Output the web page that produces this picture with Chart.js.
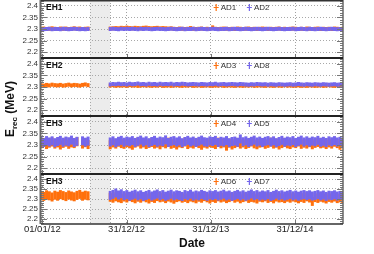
<!DOCTYPE html>
<html>
<head>
<meta charset="utf-8">
<script src="https://cdn.jsdelivr.net/npm/chart.js@4.4.1/dist/chart.umd.min.js"></script>
<style>
  html, body { margin: 0; padding: 0; background: #fff; }
  canvas { display: block; }
</style>
</head>
<body>
<canvas id="energyChart" width="374" height="254"></canvas>
<script>
// sampling grid: days since 01/01/12, one point every 12 days
const firstDay = -6, lastDay = 1302, stepDays = 12;
const sampleDays = [];
for (let d = firstDay; d <= lastDay; d += stepDays) sampleDays.push(d);

const hallNames = ['EH1', 'EH2', 'EH3', 'EH3'];
const adNames = [['AD1', 'AD2'], ['AD3', 'AD8'], ['AD4', 'AD5'], ['AD6', 'AD7']];

const yTicks = [2.2, 2.25, 2.3, 2.35, 2.4];
const dateTickDays = [0, 365, 730, 1095];
const dateTickLabels = ['01/01/12', '31/12/12', '31/12/13', '31/12/14'];
const gapDays = [207, 293]; // no data while the last ADs were installed

// reconstructed energy (MeV)
const ad1 = [
  2.301, 2.302, 2.300, 2.301, 2.303, 2.301, 2.300, 2.302, 2.301, 2.302,
  2.300, 2.301, 2.303, 2.301, 2.302, 2.300, 2.301, 2.302, null, null,
  null, null, null, null, null, 2.302, 2.303, 2.304, 2.303, 2.305,
  2.304, 2.306, 2.304, 2.303, 2.305, 2.304, 2.303, 2.305, 2.306, 2.304,
  2.303, 2.304, 2.305, 2.303, 2.304, 2.303, 2.302, 2.303, 2.301, 2.300,
  2.302, 2.301, 2.300, 2.301, 2.304, 2.301, 2.300, 2.301, 2.302, 2.300,
  2.301, 2.300, 2.307, 2.301, 2.300, 2.301, 2.302, 2.301, 2.300, 2.301,
  2.300, 2.302, 2.301, 2.300, 2.301, 2.302, 2.300, 2.301, 2.300, 2.301,
  2.302, 2.301, 2.300, 2.301, 2.300, 2.301, 2.302, 2.300, 2.301, 2.300,
  2.301, 2.302, 2.301, 2.300, 2.301, 2.300, 2.302, 2.301, 2.300, 2.301,
  2.302, 2.300, 2.301, 2.300, 2.301, 2.300, 2.302, 2.301, 2.300, 2.301
];
const ad2 = [
  2.300, 2.299, 2.300, 2.301, 2.299, 2.300, 2.300, 2.299, 2.301, 2.300,
  2.299, 2.300, 2.301, 2.300, 2.299, 2.300, 2.299, 2.300, null, null,
  null, null, null, null, null, 2.300, 2.301, 2.300, 2.299, 2.301,
  2.300, 2.301, 2.300, 2.301, 2.300, 2.299, 2.301, 2.300, 2.301, 2.300,
  2.299, 2.300, 2.301, 2.300, 2.300, 2.299, 2.300, 2.301, 2.300, 2.299,
  2.300, 2.301, 2.299, 2.300, 2.300, 2.301, 2.299, 2.300, 2.301, 2.300,
  2.299, 2.300, 2.301, 2.300, 2.299, 2.300, 2.300, 2.301, 2.299, 2.300,
  2.301, 2.300, 2.299, 2.300, 2.301, 2.300, 2.299, 2.300, 2.301, 2.300,
  2.299, 2.300, 2.301, 2.300, 2.299, 2.300, 2.301, 2.300, 2.299, 2.300,
  2.300, 2.301, 2.299, 2.300, 2.301, 2.300, 2.299, 2.301, 2.300, 2.299,
  2.300, 2.301, 2.300, 2.299, 2.300, 2.301, 2.300, 2.299, 2.300, 2.300
];
const ad3 = [
  2.308, 2.306, 2.309, 2.307, 2.310, 2.308, 2.307, 2.309, 2.306, 2.308,
  2.310, 2.307, 2.309, 2.308, 2.306, 2.309, 2.311, 2.308, null, null,
  null, null, null, null, null, 2.306, 2.308, 2.305, 2.307, 2.306,
  2.307, 2.305, 2.308, 2.306, 2.307, 2.305, 2.306, 2.308, 2.306, 2.307,
  2.305, 2.307, 2.306, 2.308, 2.305, 2.306, 2.307, 2.305, 2.306, 2.308,
  2.306, 2.305, 2.307, 2.306, 2.308, 2.305, 2.306, 2.307, 2.305, 2.306,
  2.307, 2.306, 2.305, 2.307, 2.306, 2.308, 2.305, 2.306, 2.307, 2.306,
  2.305, 2.307, 2.306, 2.305, 2.307, 2.306, 2.308, 2.305, 2.306, 2.307,
  2.306, 2.305, 2.307, 2.306, 2.305, 2.307, 2.306, 2.305, 2.308, 2.306,
  2.307, 2.305, 2.306, 2.307, 2.305, 2.306, 2.305, 2.307, 2.306, 2.305,
  2.306, 2.307, 2.305, 2.306, 2.308, 2.306, 2.305, 2.307, 2.306, 2.305
];
const ad8 = [
  null, null, null, null, null, null, null, null, null, null,
  null, null, null, null, null, null, null, null, null, null,
  null, null, null, null, null, 2.311, 2.313, 2.312, 2.314, 2.312,
  2.313, 2.311, 2.314, 2.312, 2.313, 2.315, 2.312, 2.313, 2.311, 2.314,
  2.312, 2.313, 2.311, 2.314, 2.312, 2.313, 2.312, 2.314, 2.311, 2.313,
  2.312, 2.314, 2.313, 2.311, 2.312, 2.313, 2.312, 2.311, 2.313, 2.312,
  2.311, 2.313, 2.312, 2.314, 2.311, 2.312, 2.313, 2.311, 2.312, 2.313,
  2.312, 2.311, 2.313, 2.312, 2.311, 2.310, 2.312, 2.311, 2.313, 2.312,
  2.311, 2.312, 2.310, 2.312, 2.311, 2.310, 2.312, 2.311, 2.310, 2.311,
  2.312, 2.310, 2.311, 2.313, 2.311, 2.310, 2.312, 2.311, 2.310, 2.312,
  2.311, 2.310, 2.312, 2.311, 2.310, 2.311, 2.312, 2.310, 2.311, 2.310
];
const ad4 = [
  2.305, 2.311, 2.302, 2.308, 2.313, 2.304, 2.309, 2.300, 2.307, 2.312,
  2.303, 2.309, 2.306, 2.314, null, 2.304, 2.310, 2.302, null, null,
  null, null, null, null, null, 2.301, 2.309, 2.304, 2.312, 2.306,
  2.303, 2.310, 2.305, 2.299, 2.308, 2.313, 2.304, 2.309, 2.302, 2.307,
  2.311, 2.304, 2.308, 2.301, 2.310, 2.305, 2.312, 2.303, 2.307, 2.300,
  2.309, 2.306, 2.313, 2.302, 2.308, 2.304, 2.311, 2.306, 2.299, 2.308,
  2.304, 2.310, 2.307, 2.302, 2.312, 2.305, 2.309, 2.295, 2.308, 2.300,
  2.306, 2.311, 2.304, 2.309, 2.302, 2.307, 2.313, 2.305, 2.301, 2.308,
  2.310, 2.303, 2.307, 2.312, 2.304, 2.308, 2.300, 2.306, 2.311, 2.305,
  2.302, 2.309, 2.306, 2.313, 2.303, 2.308, 2.304, 2.310, 2.301, 2.307,
  2.311, 2.305, 2.308, 2.302, 2.309, 2.304, 2.312, 2.306, 2.299, 2.306
];
const ad5 = [
  2.316, 2.311, 2.319, 2.313, 2.318, 2.310, 2.315, 2.320, 2.312, 2.317,
  2.314, 2.321, 2.311, 2.316, null, 2.318, 2.312, 2.317, null, null,
  null, null, null, null, null, 2.313, 2.318, 2.310, 2.316, 2.320,
  2.312, 2.317, 2.314, 2.319, 2.311, 2.316, 2.321, 2.313, 2.318, 2.310,
  2.315, 2.320, 2.312, 2.317, 2.314, 2.322, 2.311, 2.316, 2.319, 2.313,
  2.318, 2.310, 2.315, 2.320, 2.313, 2.317, 2.311, 2.316, 2.321, 2.314,
  2.312, 2.318, 2.315, 2.320, 2.311, 2.316, 2.313, 2.319, 2.310, 2.315,
  2.317, 2.312, 2.326, 2.314, 2.318, 2.311, 2.316, 2.321, 2.313, 2.317,
  2.311, 2.316, 2.319, 2.313, 2.318, 2.310, 2.315, 2.320, 2.312, 2.317,
  2.314, 2.319, 2.311, 2.316, 2.321, 2.313, 2.318, 2.312, 2.317, 2.314,
  2.320, 2.312, 2.316, 2.311, 2.318, 2.314, 2.319, 2.313, 2.316, 2.312
];
const ad6 = [
  2.318, 2.313, 2.321, 2.316, 2.310, 2.319, 2.314, 2.322, 2.317, 2.312,
  2.320, 2.315, 2.311, 2.318, 2.323, 2.314, 2.319, 2.316, null, null,
  null, null, null, null, null, 2.309, 2.304, 2.311, 2.306, 2.302,
  2.310, 2.305, 2.312, 2.307, 2.301, 2.309, 2.304, 2.311, 2.306, 2.300,
  2.308, 2.303, 2.312, 2.306, 2.309, 2.302, 2.310, 2.305, 2.299, 2.307,
  2.311, 2.304, 2.308, 2.302, 2.310, 2.306, 2.301, 2.309, 2.304, 2.312,
  2.306, 2.300, 2.308, 2.303, 2.311, 2.305, 2.309, 2.302, 2.307, 2.312,
  2.304, 2.309, 2.301, 2.307, 2.311, 2.303, 2.308, 2.305, 2.300, 2.309,
  2.306, 2.311, 2.303, 2.308, 2.301, 2.310, 2.305, 2.307, 2.302, 2.309,
  2.304, 2.310, 2.306, 2.301, 2.308, 2.303, 2.311, 2.305, 2.288, 2.307,
  2.303, 2.309, 2.305, 2.300, 2.308, 2.304, 2.310, 2.302, 2.306, 2.301
];
const ad7 = [
  null, null, null, null, null, null, null, null, null, null,
  null, null, null, null, null, null, null, null, null, null,
  null, null, null, null, null, 2.318, 2.323, 2.330, 2.320, 2.326,
  2.317, 2.322, 2.314, 2.319, 2.324, 2.316, 2.321, 2.313, 2.318, 2.323,
  2.315, 2.320, 2.325, 2.317, 2.322, 2.314, 2.319, 2.324, 2.316, 2.321,
  2.318, 2.313, 2.322, 2.317, 2.324, 2.315, 2.320, 2.316, 2.323, 2.318,
  2.314, 2.321, 2.317, 2.322, 2.315, 2.319, 2.324, 2.316, 2.320, 2.313,
  2.318, 2.323, 2.316, 2.321, 2.314, 2.319, 2.325, 2.317, 2.322, 2.315,
  2.320, 2.316, 2.322, 2.313, 2.318, 2.324, 2.317, 2.321, 2.315, 2.319,
  2.323, 2.316, 2.320, 2.314, 2.319, 2.322, 2.317, 2.321, 2.315, 2.318,
  2.322, 2.316, 2.320, 2.313, 2.319, 2.317, 2.321, 2.315, 2.318, 2.316
];

const seriesByPanel = [[ad1, ad2], [ad3, ad8], [ad4, ad5], [ad6, ad7]];
const panelIds = ['y1', 'y2', 'y3', 'y4'];
const panelWeights = [58, 58, 58, 50];
const colours = ['rgb(255,112,12)', 'rgb(116,102,236)'];
const errHalf = [2, 2, 4.5, 4.5];

Chart.defaults.font.family = '"Liberation Sans", Arial, Helvetica, sans-serif';

const datasets = [];
seriesByPanel.forEach((pair, p) => {
  pair.forEach((vals, k) => {
    datasets.push({
      label: adNames[p][k],
      yAxisID: panelIds[p],
      data: sampleDays.map((d, i) => ({ x: d, y: vals[i] })).filter(pt => pt.y !== null),
      borderColor: colours[k],
      backgroundColor: colours[k],
      pointBorderColor: colours[k],
      pointStyle: 'line',
      pointRotation: 90,
      pointRadius: errHalf[p],
      pointBorderWidth: 3,
      order: 2 - k
    });
  });
});

const scales = {
  x: {
    type: 'linear',
    min: -6,
    max: 1303,
    afterBuildTicks: s => { s.ticks = dateTickDays.map(v => ({ value: v })); },
    afterFit: s => { s.height = 30; s.paddingLeft = 0; s.paddingRight = 0; },
    ticks: {
      callback: (v, i) => dateTickLabels[i],
      color: '#222',
      font: { size: 9.5 },
      padding: 0,
      maxRotation: 0,
      autoSkip: false
    },
    grid: { color: '#a0a0a0', drawTicks: false },
    border: { display: false, dash: [1, 2] },
    title: {
      display: true,
      text: 'Date',
      color: '#111',
      font: { size: 12, weight: 'bold' },
      padding: { top: 0, bottom: 3 }
    }
  }
};
panelIds.forEach((id, p) => {
  scales[id] = {
    type: 'linear',
    position: 'left',
    stack: 'halls',
    stackWeight: panelWeights[p],
    weight: 4 - p,
    min: 2.175,
    max: 2.425,
    afterBuildTicks: s => { s.ticks = yTicks.map(v => ({ value: v })); },
    afterFit: s => { s.width = 41; s.paddingTop = 0; s.paddingBottom = 0; },
    ticks: {
      callback: v => String(+v.toFixed(2)),
      color: '#333',
      font: { size: 8 },
      padding: 3,
      autoSkip: false
    },
    grid: { color: '#a8a8a8', drawTicks: false },
    border: { display: false, dash: [1, 2] }
  };
});

const hallFrame = {
  id: 'hallFrame',
  beforeDraw(chart) {
    const { ctx, chartArea: a, scales: { x } } = chart;
    const x0 = x.getPixelForValue(gapDays[0]);
    const x1 = x.getPixelForValue(gapDays[1]);
    ctx.save();
    ctx.fillStyle = '#ececec';
    ctx.fillRect(x0, a.top, x1 - x0, a.bottom - a.top);
    ctx.strokeStyle = '#a8a8a8';
    ctx.lineWidth = 1;
    ctx.setLineDash([1, 2]);
    [x0, x1].forEach(px => {
      ctx.beginPath();
      ctx.moveTo(Math.round(px) + 0.5, a.top);
      ctx.lineTo(Math.round(px) + 0.5, a.bottom);
      ctx.stroke();
    });
    ctx.restore();
  },
  afterDatasetsDraw(chart) {
    const { ctx, chartArea: a, scales } = chart;
    ctx.save();
    // minor / major ticks on both sides of every panel
    ctx.strokeStyle = '#777';
    ctx.lineWidth = 1;
    panelIds.forEach(id => {
      const s = scales[id];
      for (let k = Math.ceil(s.min * 100 - 1e-6); k <= Math.floor(s.max * 100 + 1e-6); k++) {
        const py = Math.round(s.getPixelForValue(k / 100)) + 0.5;
        const len = k % 5 === 0 ? 6 : 3;
        ctx.beginPath();
        ctx.moveTo(a.left, py); ctx.lineTo(a.left + len, py);
        ctx.moveTo(a.right, py); ctx.lineTo(a.right - len, py);
        ctx.stroke();
      }
      dateTickDays.forEach(d => {
        const px = Math.round(scales.x.getPixelForValue(d)) + 0.5;
        ctx.beginPath();
        ctx.moveTo(px, s.bottom); ctx.lineTo(px, s.bottom - 4);
        ctx.stroke();
      });
    });
    // frame
    ctx.strokeStyle = '#666';
    ctx.lineWidth = 2;
    ctx.beginPath(); ctx.moveTo(a.left - 0.5, a.top); ctx.lineTo(a.left - 0.5, a.bottom); ctx.stroke();
    ctx.lineWidth = 1.5;
    ctx.beginPath(); ctx.moveTo(a.right, a.top); ctx.lineTo(a.right, a.bottom); ctx.stroke();
    ctx.strokeStyle = '#333';
    ctx.beginPath(); ctx.moveTo(a.left, a.top + 0.75); ctx.lineTo(a.right, a.top + 0.75); ctx.stroke();
    ctx.beginPath(); ctx.moveTo(a.left, a.bottom); ctx.lineTo(a.right, a.bottom); ctx.stroke();
    ctx.lineWidth = 2;
    ctx.strokeStyle = '#222';
    panelIds.slice(1).forEach(id => {
      const y = Math.round(scales[id].top);
      ctx.beginPath(); ctx.moveTo(a.left, y); ctx.lineTo(a.right, y); ctx.stroke();
    });
    // hall names and per-panel legends
    ctx.textBaseline = 'middle';
    panelIds.forEach((id, p) => {
      const s = scales[id];
      const ly = s.top + 7.5;
      ctx.fillStyle = '#111';
      ctx.font = 'bold 8.5px "Liberation Sans", Arial, sans-serif';
      ctx.fillText(hallNames[p], a.left + 5, ly);
      [0.58, 0.69].forEach((f, k) => {
        const mx = a.left + f * (a.right - a.left);
        ctx.strokeStyle = colours[k];
        ctx.lineWidth = 1.2;
        ctx.beginPath();
        ctx.moveTo(mx - 2.5, ly); ctx.lineTo(mx + 2.5, ly);
        ctx.moveTo(mx, ly - 3.5); ctx.lineTo(mx, ly + 3.5);
        ctx.stroke();
        ctx.fillStyle = '#333';
        ctx.font = '8px "Liberation Sans", Arial, sans-serif';
        ctx.fillText(adNames[p][k], mx + 4.5, ly + 0.5);
      });
    });
    ctx.restore();
  },
  afterDraw(chart) {
    // y title: E_rec (MeV)
    const { ctx } = chart;
    const big = 'bold 12px "Liberation Sans", Arial, sans-serif';
    const small = 'bold 8px "Liberation Sans", Arial, sans-serif';
    ctx.save();
    ctx.fillStyle = '#111';
    ctx.textBaseline = 'alphabetic';
    ctx.font = big;
    const wE = ctx.measureText('E').width;
    const wM = ctx.measureText(' (MeV)').width;
    ctx.font = small;
    const wR = ctx.measureText('rec').width;
    const total = wE + wR + wM;
    ctx.translate(13.5, 109);
    ctx.rotate(-Math.PI / 2);
    let tx = -total / 2;
    ctx.font = big;
    ctx.fillText('E', tx, 0);
    tx += wE;
    ctx.font = small;
    ctx.fillText('rec', tx, 3.5);
    tx += wR;
    ctx.font = big;
    ctx.fillText(' (MeV)', tx, 0);
    ctx.restore();
  }
};

new Chart(document.getElementById('energyChart'), {
  type: 'scatter',
  data: { datasets },
  options: {
    responsive: false,
    animation: false,
    devicePixelRatio: 1,
    events: [],
    layout: { autoPadding: false, padding: { left: 0, right: 31, top: 0, bottom: 0 } },
    plugins: { legend: { display: false }, tooltip: { enabled: false } },
    scales
  },
  plugins: [hallFrame]
});
</script>
</body>
</html>
